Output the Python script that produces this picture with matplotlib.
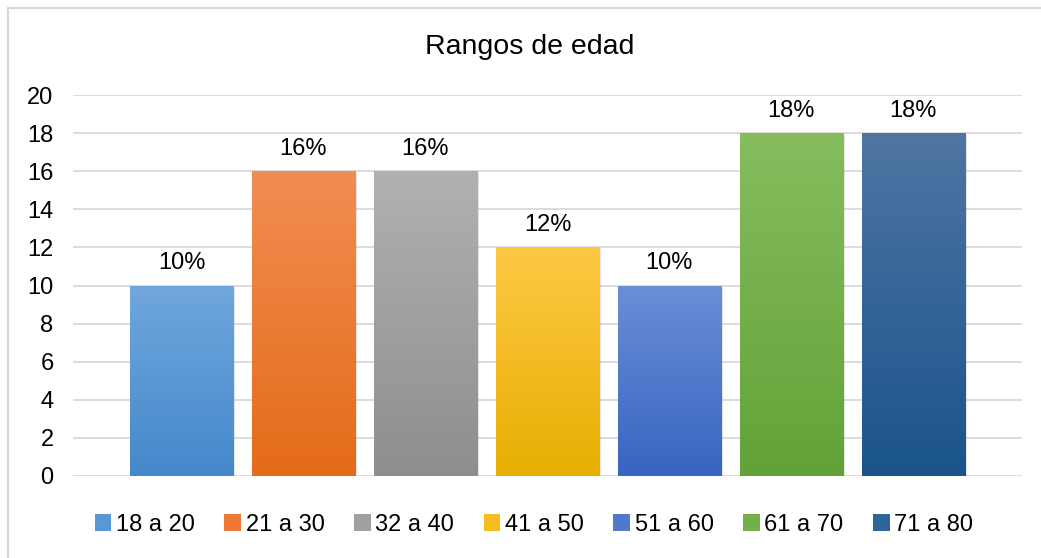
import numpy as np
import matplotlib
matplotlib.use("Agg")
from matplotlib import pyplot as plt
from matplotlib.colors import LinearSegmentedColormap
from matplotlib.lines import Line2D
from matplotlib.patches import Patch
import matplotlib.patheffects as pe

plt.rcParams['font.family'] = ['Liberation Sans', 'DejaVu Sans']

# chart data
categories = ["18 a 20", "21 a 30", "32 a 40", "41 a 50", "51 a 60", "61 a 70", "71 a 80"]
counts = [10, 16, 16, 12, 10, 18, 18]
pct_labels = ["10%", "16%", "16%", "12%", "10%", "18%", "18%"]
y_ticks = [0, 2, 4, 6, 8, 10, 12, 14, 16, 18, 20]

# gradient colours per bar (top, bottom)
top_colors = ["#70A7DD", "#F18D52", "#B1B1B1", "#FFC845", "#6A8ED7", "#87BD5D", "#4F75A3"]
bottom_colors = ["#4488CC", "#E46B18", "#8E8E8E", "#E6AF00", "#3865C0", "#62A238", "#1A548B"]

fig = plt.figure(figsize=(10.41, 5.58), dpi=100)
ax = fig.add_axes([73 / 1041, 82 / 558, 949 / 1041, 381 / 558])

x = np.arange(len(categories))
width = 0.845
bars = ax.bar(x, counts, width=width, color=bottom_colors, zorder=2)

for bar, c_top, c_bot in zip(bars, top_colors, bottom_colors):
    bar.set_path_effects([pe.SimplePatchShadow(offset=(1.5, -1.5), alpha=0.2, shadow_rgbFace="#808080"),
                          pe.Normal()])
    cmap = LinearSegmentedColormap.from_list("g", [c_bot, c_top])
    bx, by = bar.get_x(), bar.get_y()
    bw, bh = bar.get_width(), bar.get_height()
    grad = np.linspace(0, 1, 256).reshape(-1, 1)
    img = ax.imshow(grad, cmap=cmap, origin="lower", aspect="auto",
                    extent=[bx - 0.02, bx + bw + 0.02, by, by + bh], zorder=3)
    img.set_clip_path(bar)

for xi, v, lab in zip(x, counts, pct_labels):
    ax.annotate(lab, (xi, v), xytext=(0, 8), textcoords="offset points",
                ha="center", va="bottom", fontsize=17, color="#000000")

ax.set_xlim(-0.889, 6.89)
ax.set_ylim(0, 20)
ax.set_yticks(y_ticks)
ax.set_xticks([])
ax.tick_params(axis="y", length=0, pad=14, labelsize=17, labelcolor="#000000")
ax.yaxis.grid(True, color="#D9D9D9", linewidth=1.3, zorder=0)
ax.set_axisbelow(True)
for s in ax.spines.values():
    s.set_visible(False)

fig.text(530 / 1041, 1 - 47 / 558, "Rangos de edad", ha="center", va="center",
         fontsize=20.5, color="#000000")

handles = [Patch(facecolor=c, edgecolor="none") for c in
           ["#5A97D6", "#EC7A34", "#A0A0A0", "#F5BD1F", "#4F79CC", "#74AF4A", "#2E6498"]]
fig.legend(handles, categories, loc="center", bbox_to_anchor=(534 / 1041, 1 - 525 / 558),
           ncol=7, frameon=False, fontsize=17, handlelength=0.7, handleheight=0.7,
           handletextpad=0.2, columnspacing=1.25)

# outer chart border
fig.add_artist(Line2D([7.5 / 1041, 7.5 / 1041], [0, 1 - 7.5 / 558], color="#D9D9D9",
                      linewidth=1.5, transform=fig.transFigure))
fig.add_artist(Line2D([7.5 / 1041, 1], [1 - 7.5 / 558, 1 - 7.5 / 558], color="#D9D9D9",
                      linewidth=1.5, transform=fig.transFigure))

fig.savefig("out.png", dpi=100)
